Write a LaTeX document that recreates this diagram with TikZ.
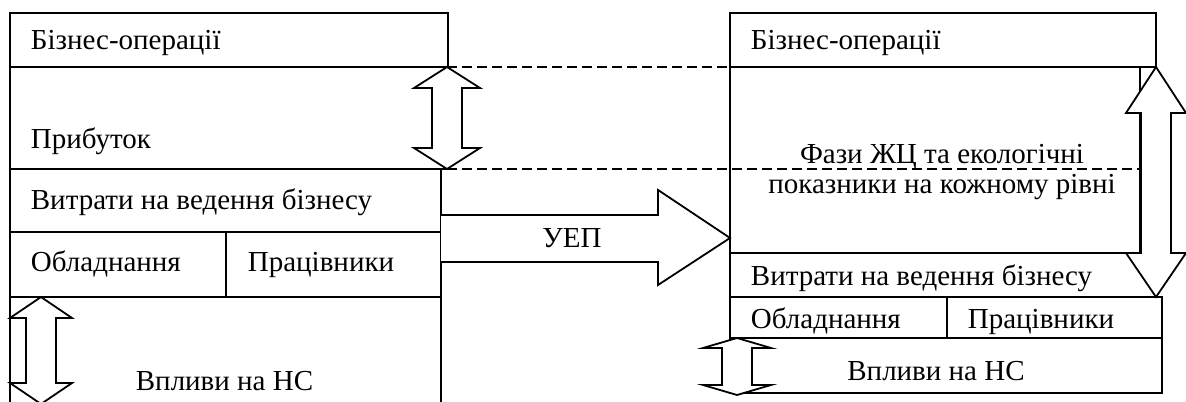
\documentclass[tikz,border=0pt]{standalone}
\usepackage{fontspec}
\setmainfont{Liberation Serif}
\usetikzlibrary{calc}

\begin{document}
\begin{tikzpicture}[x=0.5pt, y=-0.5pt, line width=0.9pt, line join=miter,
	txt/.style={inner sep=0pt, font=\fontsize{14.5}{16}\selectfont},
	lefttxt/.style={txt, anchor=base west},
	midtxt/.style={txt, anchor=base},
	blockarrow/.style={draw, fill=white},
	levelline/.style={dash pattern=on 5pt off 2.5pt}]
		
		\useasboundingbox (0,0) rectangle (1186,401);
		\clip (0,0) rectangle (1186,401);
		
		% Left scheme: the boxes
		\draw (10,13) rectangle (448,67);
		\draw (10,67) rectangle (448,169);
		\draw (10,169) rectangle (441,232);
		\draw (10,232) rectangle (441,297);
		\draw (226,232) -- (226,297);
		\draw (10,410) -- (10,297) -- (441,297) -- (441,410);
		
		% Right scheme: the boxes
		\draw (730,13) rectangle (1156,67);
		\draw (730,67) rectangle (1140,253);
		\draw (730,253) -- (730,297) -- (1162,297);
		\draw (730,297) rectangle (1162,338);
		\draw (947,297) -- (947,338);
		\draw (730,338) rectangle (1162,393);
		
		% Dashed level lines
		\draw[levelline] (447,67) -- (1156,67);
		\draw[levelline] (447,169) -- (1140,169);
		
		% Block arrow between the schemes
		\draw[fill=white] (441,215) -- (658,215) -- (658,190) -- (730,238)
			-- (658,285) -- (658,262) -- (441,262);
		
		% Double arrows
		\draw[blockarrow] (447,67) -- (480,88) -- (462,88) -- (462,148) -- (480,148)
			-- (447,169) -- (414,148) -- (432,148) -- (432,88) -- (414,88) -- cycle;
		\draw[blockarrow] (41,297) -- (72,318) -- (56,318) -- (56,383) -- (72,383)
			-- (41,404) -- (10,383) -- (26,383) -- (26,318) -- (10,318) -- cycle;
		\draw[blockarrow] (737,338) -- (771,348) -- (752,348) -- (752,385) -- (771,385)
			-- (737,395) -- (703,385) -- (722,385) -- (722,348) -- (703,348) -- cycle;
		\draw[blockarrow] (1156,67) -- (1186,113) -- (1171,113) -- (1171,253) -- (1186,253)
			-- (1156,297) -- (1126,253) -- (1141,253) -- (1141,113) -- (1126,113) -- cycle;
		
		% Labels of the left scheme
		\node[lefttxt] (opsL) at (30,50) {Бізнес-операції};
		\node[lefttxt] (profit) at (30,148) {Прибуток};
		\node[lefttxt] (costsL) at (30,209) {Витрати на ведення бізнесу};
		\node[lefttxt] (equipL) at (30,271) {Обладнання};
		\node[lefttxt] (staffL) at (247,271) {Працівники};
		\node[lefttxt] (envL) at (135,390) {Впливи на НС};
		
		% Labels of the right scheme
		\node[lefttxt] (opsR) at (750,50) {Бізнес-операції};
		\node[midtxt] (phases) at (942,163) {Фази ЖЦ та екологічні};
		\node[midtxt] (phases2) at (942,193) {показники на кожному рівні};
		\node[lefttxt] (costsR) at (750,285) {Витрати на ведення бізнесу};
		\node[lefttxt] (equipR) at (750,328) {Обладнання};
		\node[lefttxt] (staffR) at (967,328) {Працівники};
		\node[midtxt] (envR) at (936,380) {Впливи на НС};
		
		% Arrow label
		\node[midtxt] (uep) at (572,247) {УЕП};
		
	\end{tikzpicture}
\end{document}
